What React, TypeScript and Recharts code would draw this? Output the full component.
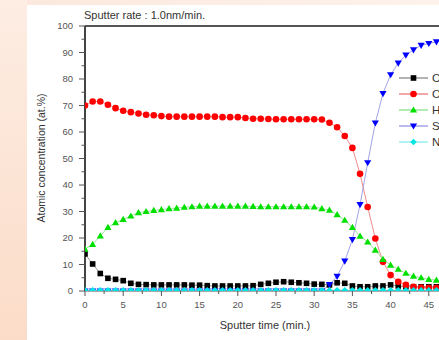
import React from 'react';
import { LineChart, Line, XAxis, YAxis, ReferenceLine, Legend } from 'recharts';

const minutes = [0,1,2,3,4,5,6,7,8,9,10,11,12,13,14,15,16,17,18,19,20,21,22,23,24,25,26,27,28,29,30,31,32,33,34,35,36,37,38,39,40,41,42,43,44,45,46,47,48,49,50];
const carbon = [14,10.2,6.6,4.8,4.4,3.9,2.9,2.5,2.4,2.3,2.3,2.3,2.3,2.3,2.2,2.2,2.0,1.9,1.9,1.9,1.9,1.9,2.0,2.5,2.9,3.3,3.5,3.3,3.1,2.9,2.6,2.5,2.3,3.1,2.9,1.9,1.6,1.6,1.9,1.9,2.3,1.9,1.6,1.6,1.6,1.6,1.6,1.6,1.6,1.6,1.6];
const oxygen = [70,71.5,71.5,70.3,69,68,67.5,67,66.5,66.3,66,65.8,65.8,65.8,65.8,65.8,65.8,65.8,65.6,65.6,65.6,65.3,65,65,64.9,64.8,64.8,64.8,64.8,64.8,64.8,64.7,63.5,61.8,58.5,54,44.2,31.7,19.8,11,6,3.5,2.3,1.6,1.3,1.2,1.2,1.2,1.2,1.2,1.2];
const hydrogen = [15.8,17.6,20.8,24,25.8,27,28.3,29.6,30,30.4,30.7,31.1,31.3,31.6,31.8,32,32,32,32,32,32,32,31.9,31.8,31.8,31.8,31.8,31.8,31.8,31.8,31.7,31.1,30.5,28.8,26.7,24,20.7,18.5,15.4,11.9,9.8,8.2,6.7,5.6,5,4.4,4.1,3.9,3.7,3.6,3.5];
const silicon = [0,0,0,0,0,0,0,0,0,0,0,0,0,0,0,0,0,0,0,0,0,0,0,0,0,0,0,0,0,0,0,0,2.4,5.5,11.3,19.4,32.6,48.4,63.4,74.5,81.6,86,89,91,92.7,93.4,94,94.4,94.7,94.9,95];
const nitrogen = [0.3,0.3,0.3,0.3,0.3,0.3,0.3,0.3,0.3,0.3,0.3,0.3,0.3,0.3,0.3,0.3,0.3,0.3,0.3,0.3,0.3,0.3,0.3,0.3,0.3,0.3,0.3,0.3,0.3,0.3,0.3,0.3,0.3,0.3,0.3,0.3,0.3,0.3,0.3,0.3,0.3,0.3,0.3,0.3,0.3,0.3,0.3,0.3,0.3,0.3,0.3];

const seriesNames = ['C', 'O', 'H', 'Si', 'N'];
const xTicks = [0,2.5,5,7.5,10,12.5,15,17.5,20,22.5,25,27.5,30,32.5,35,37.5,40,42.5,45,47.5,50];
const yTicks = [0,5,10,15,20,25,30,35,40,45,50,55,60,65,70,75,80,85,90,95,100];
const titleText = 'Sputter rate : 1.0nm/min.';
const xLabel = 'Sputter time (min.)';
const yLabel = 'Atomic concentration (at.%)';

const data = minutes.map((t, i) => ({
  t,
  C: carbon[i],
  O: oxygen[i],
  H: hydrogen[i],
  Si: silicon[i],
  N: nitrogen[i],
}));

const styles: Record<string, { shape: string; fill: string; line: string }> = {
  C: { shape: 'square', fill: '#000000', line: '#9a9a9a' },
  O: { shape: 'circle', fill: '#ff0000', line: '#f08a8a' },
  H: { shape: 'up', fill: '#00e000', line: '#99e699' },
  Si: { shape: 'down', fill: '#0000ff', line: '#a3a3e6' },
  N: { shape: 'diamond', fill: '#00e5e5', line: '#99eeee' },
};

const FONT = '"Liberation Sans", Arial, sans-serif';

function marker(shape: string, cx: number, cy: number, fill: string, key?: any) {
  switch (shape) {
    case 'square':
      return <rect key={key} x={cx - 2.8} y={cy - 2.8} width={5.6} height={5.6} fill={fill} />;
    case 'circle':
      return <circle key={key} cx={cx} cy={cy} r={3.3} fill={fill} />;
    case 'up':
      return <polygon key={key} points={`${cx},${cy - 3.6} ${cx + 3.6},${cy + 2.6} ${cx - 3.6},${cy + 2.6}`} fill={fill} />;
    case 'down':
      return <polygon key={key} points={`${cx},${cy + 3.6} ${cx + 3.6},${cy - 2.6} ${cx - 3.6},${cy - 2.6}`} fill={fill} />;
    default:
      return <polygon key={key} points={`${cx},${cy - 3.3} ${cx + 3.3},${cy} ${cx},${cy + 3.3} ${cx - 3.3},${cy}`} fill={fill} />;
  }
}

const makeDot = (name: string) => (props: any) => {
  const { cx, cy, index } = props;
  const s = styles[name];
  if (cx == null || cy == null) return <g key={`${name}-${index}`} />;
  return marker(s.shape, cx, cy, s.fill, `${name}-${index}`);
};

const XTick = (props: any) => {
  const { x, y, payload } = props;
  const v = payload.value;
  const major = v % 5 === 0;
  return (
    <g>
      <line x1={x} x2={x} y1={y} y2={y + (major ? 5 : 3)} stroke="#555" strokeWidth={1} />
      {major && (
        <text x={x} y={y + 16.5} textAnchor="middle" fontSize={9.5} fill="#555" fontFamily={FONT}>
          {v}
        </text>
      )}
    </g>
  );
};

const YTick = (props: any) => {
  const { x, y, payload } = props;
  const v = payload.value;
  const major = v % 10 === 0;
  return (
    <g>
      <line x1={x} x2={x - (major ? 6 : 3.5)} y1={y} y2={y} stroke="#555" strokeWidth={1} />
      {major && (
        <text x={x - 12} y={y + 3.4} textAnchor="end" fontSize={9.5} fill="#555" fontFamily={FONT}>
          {v}
        </text>
      )}
    </g>
  );
};

const LegendContent = () => (
  <svg width={60} height={84} style={{ display: 'block', overflow: 'visible' }}>
    {seriesNames.map((n, i) => {
      const s = styles[n];
      const cy = 8 + i * 16;
      return (
        <g key={n}>
          <line x1={2} x2={31} y1={cy} y2={cy} stroke={s.line} strokeWidth={1.5} />
          {marker(s.shape, 16.5, cy, s.fill)}
          <text x={35} y={cy + 4} fontSize={11.5} fill="#333" fontFamily={FONT}>{n}</text>
        </g>
      );
    })}
  </svg>
);

export default function App() {
  return (
    <div style={{ position: 'absolute', left: 0, top: 0, width: 439, height: 340, overflow: 'hidden', background: '#ffffff' }}>
      <div style={{ position: 'absolute', left: 0, top: 0, width: 439, height: 5, background: 'linear-gradient(90deg, #fce8dc, #fdf2ec)' }} />
      <div style={{ position: 'absolute', left: 0, top: 0, width: 27, height: 340, background: 'linear-gradient(180deg, #fdede3, #fbdcc8)' }} />
      <div style={{ position: 'absolute', left: 0, top: 0 }}>
        <LineChart width={500} height={340} data={data} margin={{ top: 26, right: 33, bottom: 19, left: 45 }}>
          <XAxis
            dataKey="t"
            type="number"
            domain={[0, 50]}
            ticks={xTicks}
            interval={0}
            tickSize={0}
            tickMargin={0}
            tickLine={false}
            tick={<XTick />}
            height={30}
            stroke="#555"
            allowDataOverflow
          />
          <YAxis
            type="number"
            domain={[0, 100]}
            ticks={yTicks}
            interval={0}
            tickSize={0}
            tickMargin={0}
            tickLine={false}
            tick={<YTick />}
            width={40}
            stroke="#444"
            strokeWidth={2}
            allowDataOverflow
          />
          <ReferenceLine y={100} stroke="#555" strokeWidth={2} />
          {seriesNames.map((n) => (
            <Line
              key={n}
              dataKey={n}
              type="linear"
              stroke={styles[n].line}
              strokeWidth={1}
              dot={makeDot(n)}
              activeDot={false}
              isAnimationActive={false}
            />
          ))}
          <Legend
            layout="vertical"
            align="center"
            verticalAlign="middle"
            content={<LegendContent />}
            wrapperStyle={{ left: 397, top: 70, width: 60, height: 84 }}
          />
          <text x={84} y={19} fontSize={11} fill="#333" fontFamily={FONT}>{titleText}</text>
          <text x={265} y={329} fontSize={11} fill="#333" fontFamily={FONT} textAnchor="middle">{xLabel}</text>
          <text x={45} y={158} fontSize={10.5} fill="#333" fontFamily={FONT} textAnchor="middle" transform="rotate(-90 45 158)">{yLabel}</text>
        </LineChart>
      </div>
    </div>
  );
}
